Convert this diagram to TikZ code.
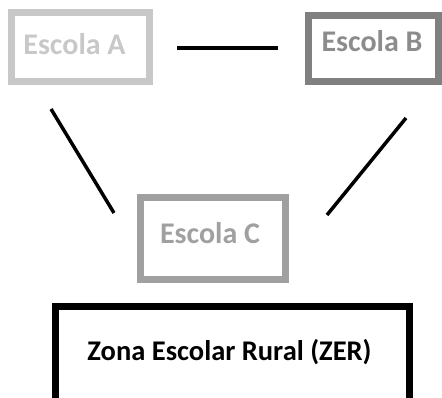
\documentclass[tikz,border=0pt]{standalone}
\usepackage{fontspec}
\setmainfont{Carlito}
\definecolor{greyA}{HTML}{C8C8C8}
\definecolor{greyB}{HTML}{808080}
\definecolor{greyC}{HTML}{A0A0A0}
\definecolor{textB}{HTML}{8C8C8C}
\begin{document}
\begin{tikzpicture}[x=1pt,y=-1pt,
    schoolbox/.style={draw,line width=7pt,inner sep=0pt},
    schooltext/.style={anchor=base,inner sep=0pt,font=\fontsize{30}{35}\selectfont\bfseries},
    link/.style={line width=3.5pt}]
      \useasboundingbox (0,0) rectangle (442,398);
      % boxes
      \node[schoolbox,draw=greyA,minimum width=138pt,minimum height=69pt] (boxA) at (80.5,47) {};
      \node[schoolbox,draw=greyB,minimum width=130pt,minimum height=66pt] (boxB) at (373.5,48.5) {};
      \node[schoolbox,draw=greyC,minimum width=145pt,minimum height=82pt] (boxC) at (213,238.5) {};
      \node[schoolbox,draw=black,minimum width=354pt,minimum height=95pt] (boxZER) at (232.5,354) {};
      % texts
      \node[schooltext,text=greyA] (A) at (74.5,55) {Escola A};
      \node[schooltext,text=textB] (B) at (372,52) {Escola B};
      \node[schooltext,text=greyC] (C) at (210,244) {Escola C};
      \node[schooltext,text=black,font=\fontsize{28.5}{34}\selectfont\bfseries] (ZER) at (229.5,360) {Zona Escolar Rural (ZER)};
      % links
      \coordinate (ABl) at (177,48);
      \coordinate (ABr) at (278,48);
      \coordinate (ACt) at (51,109);
      \coordinate (ACb) at (114,213);
      \coordinate (BCt) at (406,118);
      \coordinate (BCb) at (327,215);
      \draw[link] (ABl) -- (ABr);
      \draw[link] (ACt) -- (ACb);
      \draw[link] (BCt) -- (BCb);
    \end{tikzpicture}
\end{document}
